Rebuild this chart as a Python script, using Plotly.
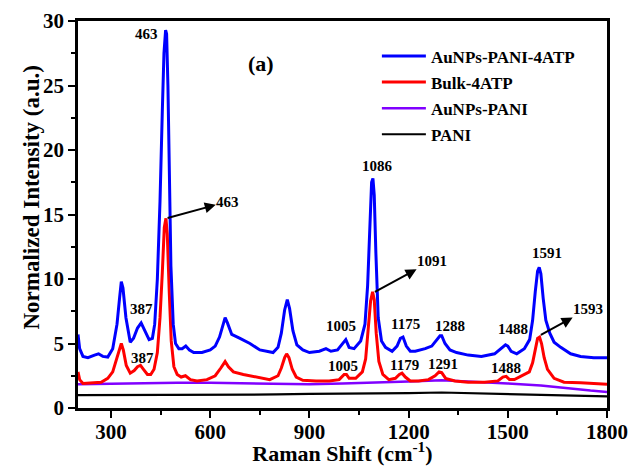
import plotly.graph_objects as go

# ---------------- data ----------------
blue_x = [200, 205, 215, 230, 250, 262, 275, 290, 305, 318, 326, 331, 336, 345, 358, 368, 380, 391, 402, 415,
          425, 432, 440, 448, 455, 460, 465, 468, 472, 476, 481, 488, 495, 505, 515, 526, 537, 550, 575, 600,
          615, 628, 638, 645, 652, 665, 690, 720, 750, 790, 805, 815, 825, 833, 840, 850, 862, 880, 900, 930,
          950, 965, 985, 1000, 1010, 1020, 1035, 1055, 1068, 1076, 1083, 1088, 1092, 1096, 1101, 1108, 1118,
          1130, 1150, 1165, 1175, 1183, 1193, 1205, 1220, 1250, 1270, 1285, 1295, 1300, 1310, 1325, 1345, 1380,
          1420, 1460, 1480, 1493, 1500, 1510, 1527, 1550, 1566, 1575, 1583, 1590, 1595, 1600, 1607, 1615, 1627,
          1640, 1660, 1690, 1720, 1760, 1800]
blue_y = [5.7, 4.6, 4.0, 3.9, 4.1, 4.2, 4.0, 3.95, 4.6, 6.5, 8.6, 9.8, 9.3, 7.0, 5.1, 5.4, 6.2, 6.6, 6.0, 5.3,
          5.4, 6.5, 10.0, 16.0, 23.0, 27.5, 29.3, 29.0, 25.0, 18.0, 11.0, 6.5, 5.0, 4.6, 4.6, 4.8, 4.5, 4.3, 4.3, 4.5,
          4.8, 5.5, 6.5, 7.0, 6.6, 5.7, 5.4, 5.0, 4.5, 4.3, 4.7, 5.8, 7.6, 8.4, 7.7, 6.0, 4.9, 4.5, 4.3, 4.4,
          4.6, 4.4, 4.5, 5.0, 5.3, 4.7, 4.6, 5.2, 6.5, 9.5, 14.5, 17.5, 17.8, 16.5, 12.0, 7.0, 5.2,
          4.7, 4.4, 4.8, 5.4, 5.5, 4.8, 4.4, 4.4, 4.6, 4.8, 5.3, 5.6, 5.6, 5.0, 4.5, 4.3, 4.1,
          4.0, 4.2, 4.6, 4.9, 4.8, 4.4, 4.2, 4.6, 5.3, 6.8, 9.0, 10.6, 10.9, 10.4, 8.5, 6.8, 5.8,
          5.1, 4.7, 4.2, 4.0, 3.9, 3.9]

red_x = [200, 205, 215, 240, 270, 290, 305, 318, 326, 331, 337, 346, 358, 370, 380, 389, 398, 410, 420, 430,
         440, 448, 455, 461, 466, 470, 476, 482, 490, 500, 512, 525, 540, 560, 590, 615, 632, 645, 655, 670,
         700, 740, 780, 805, 815, 825, 831, 838, 848, 860, 880, 920, 960, 990, 1005, 1012, 1020, 1040, 1060,
         1070, 1078, 1085, 1091, 1096, 1102, 1110, 1122, 1140, 1160, 1172, 1180, 1190, 1205, 1230, 1260, 1280,
         1292, 1300, 1312, 1340, 1380, 1430, 1470, 1485, 1495, 1505, 1520, 1545, 1565, 1575, 1583, 1590, 1596,
         1602, 1610, 1620, 1640, 1670, 1720, 1760, 1800]
red_y = [2.8, 2.2, 1.9, 1.95, 2.0, 2.3, 2.8, 3.9, 4.7, 5.0, 4.5, 3.3, 2.7, 2.9, 3.2, 3.3, 3.0, 2.6, 2.6, 3.0,
         4.3, 7.0, 10.5, 14.0, 14.7, 13.5, 9.0, 5.2, 3.2, 2.6, 2.4, 2.5, 2.2, 2.1, 2.2, 2.5, 3.1, 3.6, 3.2, 2.8,
         2.6, 2.4, 2.2, 2.5, 3.1, 3.9, 4.2, 3.9, 3.0, 2.4, 2.15, 2.1, 2.1, 2.2, 2.6, 2.6, 2.3, 2.3, 2.8,
         3.8, 6.0, 8.3, 9.0, 8.4, 5.8, 3.6, 2.6, 2.2, 2.3, 2.6, 2.7, 2.4, 2.1, 2.1, 2.2, 2.5,
         2.8, 2.75, 2.3, 2.1, 2.0, 2.0, 2.1, 2.4, 2.45, 2.2, 2.2, 2.5, 2.8, 3.5, 4.6, 5.4, 5.5,
         5.0, 3.9, 3.0, 2.3, 2.0, 1.95, 1.9, 1.85]

purple_x = [200, 300, 400, 500, 600, 700, 800, 900, 1000, 1100, 1200, 1300, 1400, 1500, 1600, 1650, 1700, 1750, 1800]
purple_y = [1.85, 1.9, 1.95, 1.95, 1.95, 1.9, 1.85, 1.85, 1.9, 1.95, 2.05, 2.15, 2.05, 1.9, 1.75, 1.6, 1.45, 1.35, 1.25]

black_x = [200, 300, 400, 500, 600, 700, 800, 900, 1000, 1100, 1200, 1300, 1400, 1500, 1600, 1700, 1800]
black_y = [1.0, 1.0, 1.05, 1.05, 1.05, 1.05, 1.05, 1.1, 1.1, 1.15, 1.15, 1.2, 1.15, 1.1, 1.0, 0.95, 0.9]

series_names = ["AuNPs-PANI-4ATP", "Bulk-4ATP", "AuNPs-PANI", "PANI"]
series_colors = ["#0000FF", "#FF0000", "#8000FF", "#000000"]

x_ticks = [300, 600, 900, 1200, 1500, 1800]
y_ticks = [0, 5, 10, 15, 20, 25, 30]

# peak labels: (text, x, y)
peak_labels = [
    ("463", 408, 29.0), ("1086", 1107, 18.75), ("1591", 1618, 12.0),
    ("387", 392, 7.67), ("387", 395, 3.88),
    ("1005", 994, 6.36), ("1005", 1000, 3.26),
    ("1175", 1192, 6.5), ("1179", 1189, 3.33),
    ("1288", 1326, 6.36), ("1291", 1305, 3.41),
    ("1488", 1515, 6.12), ("1488", 1493, 3.1),
]
# arrow labels: (text, peak_x, peak_y, text_x, text_y)
arrow_labels = [
    ("463", 471, 14.73, 653, 16.0),
    ("1091", 1098, 9.0, 1271, 11.4),
    ("1593", 1600, 5.66, 1743, 7.67),
]

FONT = "Liberation Serif, Times New Roman, serif"

fig = go.Figure()
xs = [blue_x, red_x, purple_x, black_x]
ys = [blue_y, red_y, purple_y, black_y]
widths = [3, 3, 2.5, 2.2]
for i in [3, 2, 1, 0]:
    fig.add_trace(go.Scatter(x=xs[i], y=ys[i], mode="lines", name=series_names[i],
                             legendgroup=series_names[i], legendrank=i + 1,
                             line=dict(color=series_colors[i], width=widths[i])))

for t, x, y in peak_labels:
    fig.add_annotation(x=x, y=y, text=t, showarrow=False,
                       font=dict(family=FONT, size=15, color="black", weight="bold"))
for t, px, py, lx, ly in arrow_labels:
    fig.add_annotation(x=px, y=py, ax=lx, ay=ly, axref="x", ayref="y", text=t,
                       showarrow=True, arrowside="start", arrowhead=2, startarrowhead=2,
                       startarrowsize=1.1, arrowwidth=2, arrowcolor="black",
                       standoff=0, startstandoff=0, borderpad=0,
                       font=dict(family=FONT, size=15, color="black", weight="bold"))

fig.add_annotation(x=754, y=26.7, text="(a)", showarrow=False,
                   font=dict(family=FONT, size=22, color="black", weight="bold"))

# y-axis title (placed like the reference, slightly above the plot centre)
fig.add_annotation(xref="paper", yref="paper", x=-0.115, y=0.543, textangle=-90,
                   text="Normalized Intensity (a.u.)", showarrow=False,
                   font=dict(family=FONT, size=23, color="black", weight="bold"))

axis_common = dict(showline=True, linecolor="black", linewidth=2.5, mirror=True,
                   ticks="outside", ticklen=7, tickwidth=2, tickcolor="black",
                   showgrid=False, zeroline=False,
                   tickfont=dict(family=FONT, size=21, color="black", weight="bold"))

fig.update_layout(
    width=630, height=466,
    margin=dict(l=78, r=23, t=21, b=58),
    paper_bgcolor="white", plot_bgcolor="white",
    font=dict(family=FONT, color="black"),
    showlegend=True,
    legend=dict(x=0.565, y=0.955, xanchor="left", yanchor="top",
                bgcolor="rgba(0,0,0,0)", borderwidth=0,
                font=dict(family=FONT, size=17, color="black", weight="bold"),
                tracegroupgap=1, itemwidth=44),
    xaxis=dict(range=[200, 1800], tickvals=x_ticks, ticklabelstandoff=-4,
               minor=dict(dtick=150, tick0=150, ticks="outside", ticklen=4, tickwidth=2, tickcolor="black"),
               title=dict(text="Raman Shift (cm<sup>-1</sup>)", standoff=11,
                          font=dict(family=FONT, size=22, color="black", weight="bold")),
               automargin=False, **axis_common),
    yaxis=dict(range=[0, 30], tickvals=y_ticks,
               minor=dict(dtick=2.5, ticks="outside", ticklen=4, tickwidth=2, tickcolor="black"),
               automargin=False, **axis_common),
)

fig.write_html("out.html", config={"displayModeBar": False},
               post_script="document.body.style.margin='0';document.body.style.overflow='hidden';")
